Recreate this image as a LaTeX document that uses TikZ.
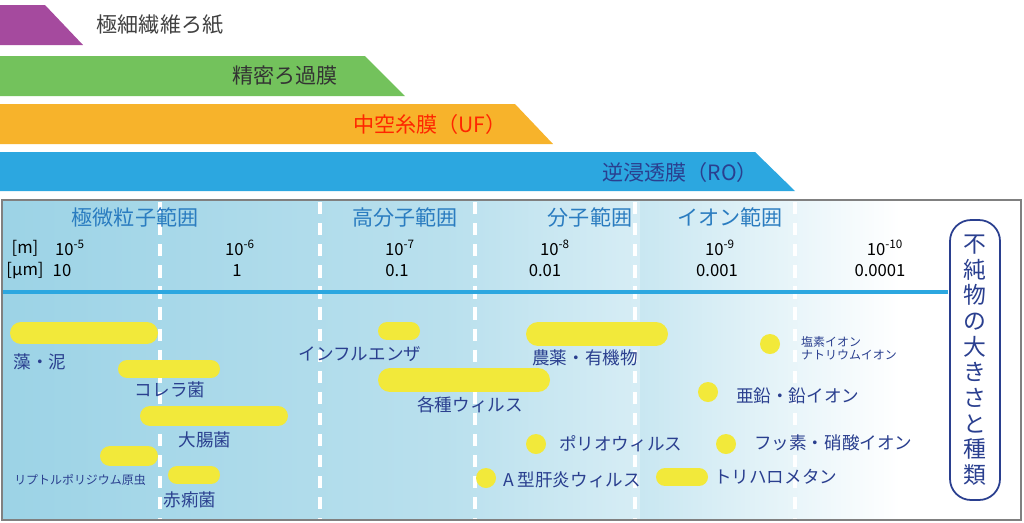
\documentclass[tikz,border=0pt]{standalone}
\usepackage{fontspec}
\setmainfont{Noto Sans CJK JP}
\definecolor{purp}{HTML}{A54A9E}
\definecolor{grn}{HTML}{73C25C}
\definecolor{orng}{HTML}{F7B32B}
\definecolor{skyb}{HTML}{2CA7E0}
\definecolor{bgblue}{HTML}{9CD3E6}
\definecolor{catblue}{HTML}{2A7CC0}
\definecolor{navy}{HTML}{2A3F8F}
\definecolor{yel}{HTML}{F2E93A}
\tikzset{
  pill/.style={line width=#1*0.2mm, line cap=round, draw=yel},
  dot/.style={fill=yel, draw=none},
  lab/.style={text=navy, font=\fontsize{10}{11}\selectfont},
  small/.style={text=navy, font=\fontsize{6.8}{7.5}\selectfont, align=left},
  cat/.style={text=catblue, font=\fontsize{12}{13}\selectfont},
  num/.style={text=black, font=\fontsize{9.5}{10}\selectfont},
  sep/.style={white, line width=1.8pt, dash pattern=on 7pt off 5pt},
}
\begin{document}
\begin{tikzpicture}[x=0.02cm,y=-0.02cm]
\useasboundingbox (0,0) rectangle (1024,522);
%
\fill[purp] (0,5) -- (45,5) -- (83,45) -- (0,45) -- cycle;
\node[text=black!75, font=\fontsize{12}{13}\selectfont] (fiber) at (160,25) {極細繊維ろ紙};
\fill[grn] (0,56) -- (365,56) -- (405,96) -- (0,96) -- cycle;
\node[text=black!80, font=\fontsize{12}{13}\selectfont] (mf) at (285,76) {精密ろ過膜};
\fill[orng] (0,104) -- (515,104) -- (553,144) -- (0,144) -- cycle;
\node[text=red!70!orange, font=\fontsize{12}{13}\selectfont] (uf) at (430,124) {中空糸膜（UF）};
\fill[skyb] (0,152) -- (755,152) -- (795,191) -- (0,191) -- cycle;
\node[text=navy, font=\fontsize{12}{13}\selectfont] (ro) at (680,172) {逆浸透膜（RO）};
%
\shade[left color=bgblue, right color=white, middle color=bgblue!70] (2,200) rectangle (900,520);
\fill[white] (900,200) rectangle (1021,520);
\shade[left color=bgblue!55, right color=white] (640,200) rectangle (900,520);
\foreach \x in {160,320,475,635,795}
  \draw[sep] (\x,202) -- (\x,520);
\draw[skyb, line width=2pt] (2,292) -- (948,292);
\draw[gray, line width=1.2pt] (2,200) rectangle (1021,520);
%
\node[cat] (c1) at (135,217) {極微粒子範囲};
\node[cat] (c2) at (405,217) {高分子範囲};
\node[cat] (c3) at (590,217) {分子範囲};
\node[cat] (c4) at (730,217) {イオン範囲};
%
\node[num] (m) at (25,248) {[m]};
\node[num] (um) at (25,271) {[µm]};
\foreach \x/\e/\u/\ux in {70/-5/10/62, 240/-6/1/237, 400/-7/0.1/397, 555/-8/0.01/545, 720/-9/0.001/717, 885/-10/0.0001/880}{
  \node[num] at (\x,248) {10\textsuperscript{\e}};
  \node[num] at (\ux,271) {\u};
}
%
\draw[navy, line width=1pt, rounded corners=12pt] (950,220) rectangle (1000,500);
\node[text=navy, font=\fontsize{13}{14.6}\selectfont, align=center] (kind) at (975,360)
  {不\\純\\物\\の\\大\\き\\さ\\と\\種\\類};
%
\draw[pill=22] (21,333) -- (147,333);
\node[lab] (mud) at (40,362) {藻・泥};
\draw[pill=18] (127,369) -- (211,369);
\node[lab] (chol) at (170,390) {コレラ菌};
\draw[pill=20] (150,416) -- (278,416);
\node[lab] (ecoli) at (205,440) {大腸菌};
\draw[pill=20] (110,456) -- (148,456);
\node[small] (crypto) at (80,480) {リプトルポリジウム原虫};
\draw[pill=18] (177,475) -- (211,475);
\node[lab] (dys) at (190,500) {赤痢菌};
\draw[pill=18] (387,331) -- (411,331);
\node[lab] (flu) at (360,354) {インフルエンザ};
\draw[pill=24] (390,380) -- (538,380);
\node[lab] (virus) at (470,405) {各種ウィルス};
\draw[pill=24] (538,334) -- (656,334);
\node[lab] (agri) at (585,358) {農薬・有機物};
\fill[dot] (536,444) circle (10);
\node[lab, anchor=west] (polio) at (553,444) {ポリオウィルス};
\fill[dot] (486,478) circle (10);
\node[lab, anchor=west] (hepa) at (497,480) {A 型肝炎ウィルス};
\draw[pill=18] (665,477) -- (699,477);
\node[lab, anchor=west] (thm) at (708,477) {トリハロメタン};
\fill[dot] (708,392) circle (10);
\node[lab, anchor=west] (zinc) at (730,396) {亜鉛・鉛イオン};
\fill[dot] (726,444) circle (10);
\node[lab, anchor=west] (fluor) at (748,443) {フッ素・硝酸イオン};
\fill[dot] (770,344) circle (10);
\node[small, anchor=west] (cl) at (795,348) {塩素イオン\\ナトリウムイオン};
\end{tikzpicture}
\end{document}
